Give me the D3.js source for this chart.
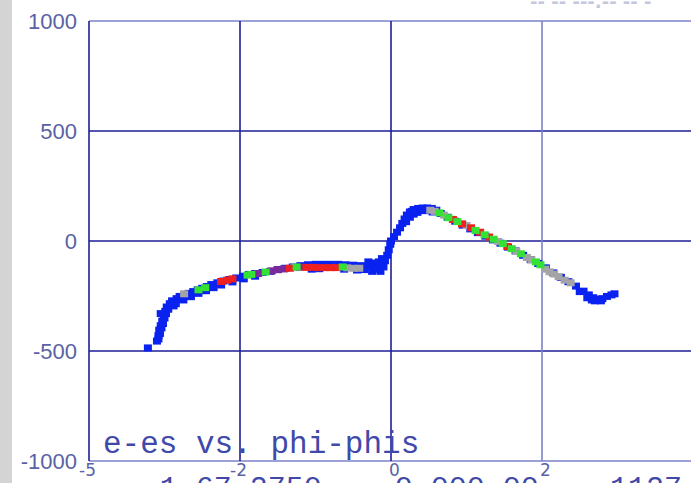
<!DOCTYPE html>
<html><head><meta charset="utf-8">
<script src="https://cdn.jsdelivr.net/npm/d3@7"></script>
<style>html,body{margin:0;padding:0;background:#fff;overflow:hidden}</style>
</head><body>
<script>
// ---- data ----
const xTicks = [-4, -2, 0, 2];
const xTickLabels = ["-5", "-2", "0", "2"];
const yTicks = [1000, 500, 0, -500, -1000];
const yTickLabels = ["1000", "500", "0", "-500", "-1000"];
const xGridValues = [-4, -2, 0, 2, 4];
const yGridValues = [1000, 500, 0, -500, -1000];
const title = "e-es vs. phi-phis";
const footerTexts = ["-1.67-2750", "0.000 00", "1127"];
const footerX = [-3.3, 0.05, 2.9];
const topText = "-- -- ---.-- -- -";

const blueSeries = [
  [-3.22,-486],[-3.10,-455],[-3.08,-430],[-3.07,-405],[-3.05,-385],[-3.03,-365],[-3.01,-345],
  [-2.99,-320],[-2.97,-300],[-2.93,-285],[-2.90,-272],[-2.84,-262],[-2.80,-252],[-2.74,-246],
  [-2.68,-238],[-2.62,-230],[-2.56,-222],[-2.50,-215],[-2.44,-207],[-2.38,-198],[-2.30,-190],
  [-2.22,-182],[-2.14,-175],[-2.05,-168],[-1.96,-160],[-1.88,-152],[-1.80,-148],[-1.70,-143],
  [-1.60,-138],[-1.50,-130],[-1.40,-124],[-1.30,-118],[-1.20,-112],[-1.10,-108],[-1.00,-106],
  [-0.90,-106],[-0.80,-106],[-0.70,-106],[-0.60,-108],[-0.50,-110],[-0.40,-112],[-0.30,-114],
  [-0.20,-116],[-0.12,-110],[-0.08,-90],[-0.05,-65],[-0.03,-40],[-0.01,-15],
  [-3.08,-445],[-3.06,-420],[-3.04,-395],[-3.02,-375],[-3.00,-350],[-2.98,-330],
  [-3.05,-330],[-2.95,-310],[-2.88,-295],[-2.85,-285],[-2.75,-268],[-2.65,-253],[-2.55,-238],
  [-2.45,-226],[-2.35,-212],[-2.25,-200],[-2.10,-186],[-1.95,-172],[-1.80,-160],[-1.05,-128],
  [-0.95,-126],[-0.62,-128],[-0.45,-132],[-0.35,-130],[-0.30,-95],[-0.25,-138],[-0.22,-100],
  [-0.18,-128],[-0.14,-138],[-0.10,-118],[-0.16,-95],[-0.12,-80],
  [0.00,0],[0.04,20],[0.08,40],[0.12,60],[0.15,80],[0.18,100],[0.21,118],[0.25,132],[0.30,143],
  [0.36,148],[0.42,150],[0.48,150],[0.54,148],[0.60,140],
  [0.20,88],[0.25,108],[0.30,122],[0.35,130],[0.45,138],[0.55,132],[0.40,140],[0.28,135],
  [0.66,125],[0.75,108],[0.85,90],[0.95,72],[1.05,55],[1.15,38],[1.25,22],[1.35,5],[1.45,-10],
  [1.55,-28],[1.65,-45],[1.75,-65],[1.85,-85],[1.95,-102],[2.05,-122],[2.15,-145],[2.25,-165],
  [2.35,-185],[2.45,-205],[2.55,-228],[2.62,-245],[2.68,-258],[2.74,-265],[2.80,-262],
  [2.86,-252],[2.92,-245],[2.96,-240],
  [2.50,-230],[2.60,-258],[2.70,-272],[2.78,-272],[2.66,-268]
];
const redSeries = [
  [-2.25,-184],[-2.17,-178],[-2.10,-172],[-1.34,-124],[-1.12,-120],[-1.04,-120],[-0.96,-121],
  [-0.88,-121],[-0.80,-121],[-0.72,-121],
  [0.82,98],[0.94,78],[1.06,60],[1.18,40],[1.30,18],[1.54,-25]
];
const greenSeries = [
  [-2.55,-222],[-2.46,-212],[-1.90,-155],[-1.85,-152],[-1.66,-141],[-1.25,-118],[-0.64,-118],
  [0.64,128],[0.76,106],[0.88,88],[1.12,48],[1.24,28],[1.36,8],[1.48,-12],[1.60,-35],[1.72,-58],
  [1.92,-95],[1.98,-108]
];
const graySeries = [
  [-2.74,-240],[-1.28,-121],[-0.58,-122],[-0.50,-124],[-0.42,-124],
  [0.52,140],[0.58,135],[0.70,118],[1.00,70],[1.42,-2],[1.66,-46],[1.80,-75],[1.86,-85],
  [2.04,-128],[2.10,-140],[2.16,-150],[2.22,-162],[2.30,-178],[2.38,-190]
];
const purpleSeries = [
  [-1.76,-148],[-1.58,-136],[-1.50,-130],[-1.42,-127],[-1.20,-119]
];

const seriesList = [
  {data: blueSeries, color: "#0a22f0"},
  {data: graySeries, color: "#a4a4a8"},
  {data: purpleSeries, color: "#7a2a9a"},
  {data: redSeries, color: "#ee2020"},
  {data: greenSeries, color: "#34e234"}
];

// ---- drawing ----
const W = 691, H = 483;
const svg = d3.select("body").append("svg").attr("width", W).attr("height", H);
svg.append("rect").attr("width", W).attr("height", H).attr("fill", "#fff");
svg.append("rect").attr("x", 0).attr("y", 0).attr("width", 12).attr("height", H).attr("fill", "#d4d4d4");

const x = d3.scaleLinear().domain([-4, 4]).range([89, 693]);
const y = d3.scaleLinear().domain([-1000, 1000]).range([461, 21]);

const darkC = "#1e1e96", lightC = "#7c82c8";
const xGridStyle = v => (v === 2 || v === 4) ? lightC : darkC;
const yGridStyle = v => (v === 1000 || v === -1000) ? lightC : darkC;

svg.append("g").selectAll("line").data(yGridValues).join("line")
  .attr("x1", x(-4)).attr("x2", x(4)).attr("y1", d => y(d)).attr("y2", d => y(d))
  .attr("stroke", yGridStyle).attr("stroke-width", 1.6);
svg.append("g").selectAll("line").data(xGridValues).join("line")
  .attr("y1", y(1000)).attr("y2", y(-1000)).attr("x1", d => x(d)).attr("x2", d => x(d))
  .attr("stroke", xGridStyle).attr("stroke-width", 1.6);

// y tick labels
svg.append("g").selectAll("text").data(yTicks).join("text")
  .attr("x", 77).attr("y", d => y(d)).attr("dy", "0.36em")
  .attr("text-anchor", "end")
  .attr("font-family", "Liberation Sans, Arial, sans-serif").attr("font-size", 22)
  .attr("fill", "#5a62a4")
  .text((d, i) => yTickLabels[i]);

// x tick labels
svg.append("g").selectAll("text").data(xTicks).join("text")
  .attr("x", (d, i) => x(d) + (xTickLabels[i].startsWith("-") ? -10 : -2))
  .attr("y", 476)
  .attr("font-family", "DejaVu Sans, Verdana, sans-serif").attr("font-size", 17)
  .attr("fill", "#5a62a4")
  .text((d, i) => xTickLabels[i]);

// points
const ms = 8, mh = 7;
seriesList.forEach(s => {
  svg.append("g").selectAll("rect").data(s.data).join("rect")
    .attr("x", d => x(d[0]) - ms / 2).attr("y", d => y(d[1]) - mh / 2)
    .attr("width", ms).attr("height", mh).attr("fill", s.color);
});

// title inside plot
svg.append("text").attr("x", 103).attr("y", 453)
  .attr("font-family", "Liberation Mono, Courier New, monospace").attr("font-size", 31)
  .attr("fill", "#4048aa").text(title);

// cut-off footer texts
svg.append("g").selectAll("text").data(footerTexts).join("text")
  .attr("x", (d, i) => x(footerX[i])).attr("y", 497)
  .attr("font-family", "Liberation Mono, Courier New, monospace").attr("font-size", 30)
  .attr("fill", "#4048aa").text(d => d);

// cut-off text at top right
svg.append("text").attr("x", 530).attr("y", 8)
  .attr("font-family", "DejaVu Sans, sans-serif").attr("font-size", 18).attr("font-weight", "bold")
  .attr("fill", "#c4c8dc").text(topText);
</script>
</body></html>
